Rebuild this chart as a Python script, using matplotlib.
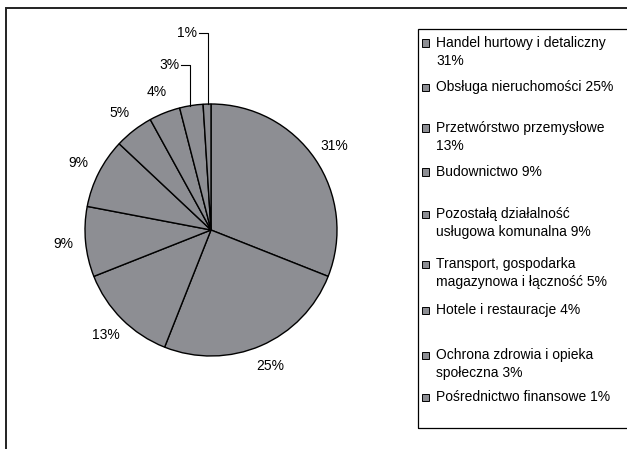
import numpy as np
import matplotlib.pyplot as plt
from matplotlib.patches import Rectangle

plt.rcParams['font.family'] = ['Liberation Sans', 'DejaVu Sans']

# data
categories = ["Handel hurtowy i detaliczny", "Obsługa nieruchomości",
              "Przetwórstwo przemysłowe", "Budownictwo",
              "Pozostałą działalność usługowa komunalna",
              "Transport, gospodarka magazynowa i łączność",
              "Hotele i restauracje", "Ochrona zdrowia i opieka społeczna",
              "Pośrednictwo finansowe"]
shares = [31, 25, 13, 9, 9, 5, 4, 3, 1]
# where the legend text wraps (word index of line break, None = one line)
wrap_at = [4, None, 2, None, 2, 2, None, 4, None]

W, H = 627, 449
fig = plt.figure(figsize=(W / 100, H / 100), dpi=100)

# pie placed by pixel centre / radius
cx, cy, R = 211, 230, 126
lim = 1.6
ax = fig.add_axes([(cx - lim * R) / W, (H - cy - lim * R) / H, 2 * lim * R / W, 2 * lim * R / H])
ax.set_xlim(-lim, lim)
ax.set_ylim(-lim, lim)
ax.axis('off')

grey = '#8d8e93'
wedges, _ = ax.pie(shares, startangle=90, counterclock=False, colors=[grey] * len(shares),
                   wedgeprops=dict(edgecolor='black', linewidth=1.0), radius=1, frame=True)
ax.set_xlim(-lim, lim)
ax.set_ylim(-lim, lim)
ax.axis('off')

# percentage labels outside the pie
moved = {7: (-0.333, 1.31, -0.238, -0.167), 8: (-0.19, 1.563, -0.095, -0.024)}
for i, (w, s) in enumerate(zip(wedges, shares)):
    if i in moved:
        tx, ty, lx0, lx1 = moved[i]
        ax.text(tx, ty, f"{s}%", ha='center', va='center', fontsize=10)
        ax.plot([lx0, lx1, lx1], [ty, ty, np.sqrt(1 - lx1 ** 2)], color='black', lw=0.8,
                clip_on=False)
    else:
        ang = np.deg2rad((w.theta1 + w.theta2) / 2)
        ax.text(1.18 * np.cos(ang), 1.18 * np.sin(ang), f"{s}%", ha='center', va='center',
                fontsize=10)

# outer chart border (right and bottom run off the picture)
fig.add_artist(Rectangle((6 / W, -0.05), 1.1, (H - 8) / H + 0.05, transform=fig.transFigure,
                         fill=False, edgecolor='#222222', linewidth=1.4))

# legend box
fig.add_artist(Rectangle((418 / W, (H - 428) / H), 1.0, (428 - 29) / H, transform=fig.transFigure,
                         fill=False, edgecolor='black', linewidth=0.9))

entry_y = [43, 87, 128, 172, 214, 264, 310, 355, 397]
for name, s, k, y in zip(categories, shares, wrap_at, entry_y):
    words = f"{name} {s}%".split(" ")
    lines = [" ".join(words)] if k is None else [" ".join(words[:k]), " ".join(words[k:])]
    fig.add_artist(Rectangle((422 / W, (H - y - 3.5) / H), 7 / W, 7 / H, transform=fig.transFigure,
                             facecolor=grey, edgecolor='black', linewidth=0.7))
    for j, line in enumerate(lines):
        fig.text(436 / W, (H - y - 18 * j) / H, line, ha='left', va='center', fontsize=10)

plt.savefig("out.png", dpi=100)
